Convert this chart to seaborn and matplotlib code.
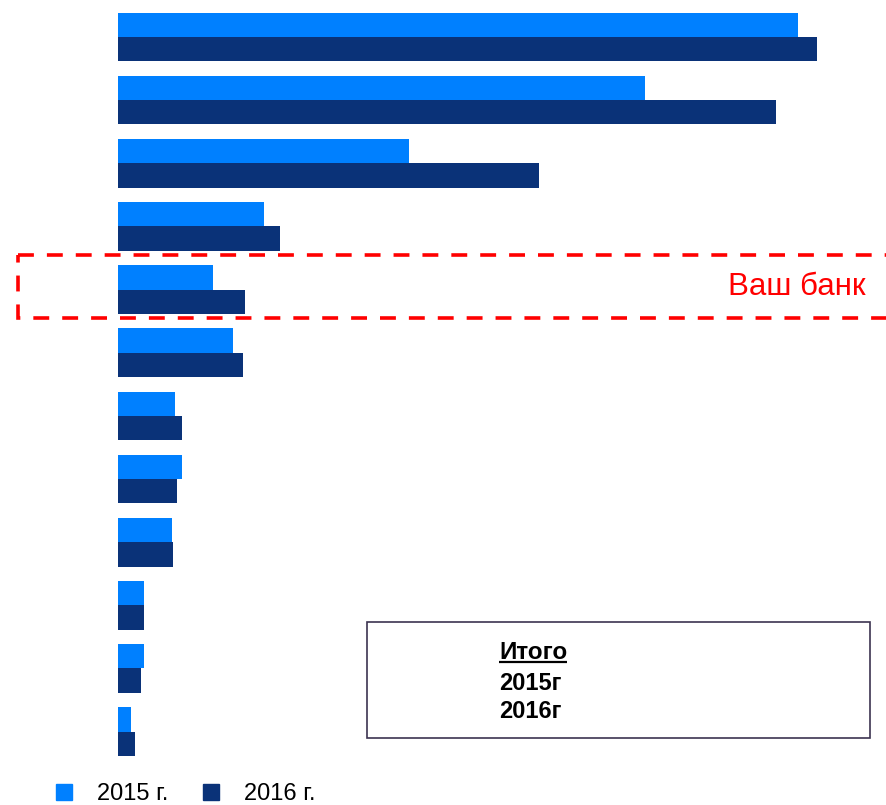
import matplotlib
matplotlib.use("Agg")
import matplotlib.pyplot as plt
from matplotlib.patches import Rectangle
from matplotlib.lines import Line2D
import seaborn as sns
import pandas as pd

# ---- data ----
categories = ["Банк 1", "Банк 2", "Банк 3", "Банк 4", "Ваш банк", "Банк 6",
              "Банк 7", "Банк 8", "Банк 9", "Банк 10", "Банк 11", "Банк 12"]
values_2015 = [680, 527, 291, 146, 95, 115, 57, 64, 54, 26, 26, 13]
values_2016 = [699, 658, 421, 162, 127, 125, 64, 59, 55, 26, 23, 17]
series_labels = ["2015 г.", "2016 г."]
highlight = "Ваш банк"
summary_title = "Итого"
summary_lines = ["2015г", "2016г"]

color_2015 = "#0080FF"
color_2016 = "#0A3278"

df = pd.DataFrame({
    "category": categories * 2,
    "year": [series_labels[0]] * len(categories) + [series_labels[1]] * len(categories),
    "value": values_2015 + values_2016,
})

sns.set_style("white")
plt.rcParams["font.family"] = ["Liberation Sans", "DejaVu Sans"]
plt.rcParams["text.color"] = "black"

fig = plt.figure(figsize=(8.86, 8.05), dpi=100)
ax = fig.add_axes([0, 0, 1, 1])

sns.barplot(data=df, y="category", x="value", hue="year", orient="h",
            palette=[color_2015, color_2016], saturation=1, width=0.77,
            errorbar=None, order=categories, hue_order=series_labels,
            legend=False, edgecolor="none", ax=ax)

PX = 63.15          # pixels per category step
Y0 = -37 / PX       # category value at figure top
def ypx(p):
    return Y0 + p / PX

ax.set_xlim(-118, 768)
ax.set_ylim(ypx(805), ypx(0))
ax.axis("off")

# highlight rectangle
ax.add_patch(Rectangle((-100, ypx(255)), 1000, ypx(318) - ypx(255),
                       fill=False, edgecolor="#FF0000", lw=2.6,
                       linestyle=(0, (4.4, 3.6)), clip_on=False))
ax.text(748, ypx(287), highlight, color="#FF0000", fontsize=22.5,
        ha="right", va="center")

# summary box
ax.add_patch(Rectangle((249, ypx(622.3)), 503, ypx(738.3) - ypx(622.3),
                       fill=False, edgecolor="#3C3350", lw=1.2, clip_on=False))
title = ax.text(381, ypx(659.3), summary_title, fontsize=17.5, fontweight="bold",
                ha="left", va="baseline")
for line, base in zip(summary_lines, [690, 718.3]):
    ax.text(381, ypx(base), line, fontsize=17, fontweight="bold",
            ha="left", va="baseline")

# underline matching the title's width
fig.canvas.draw()
bb = title.get_window_extent(renderer=fig.canvas.get_renderer())
x0, x1 = ax.transData.inverted().transform([[bb.x0, 0], [bb.x1, 0]])[:, 0]
ax.plot([x0, x1], [ypx(662.5), ypx(662.5)], color="black", lw=1.6,
        solid_capstyle="butt")

# legend
handles = [Line2D([], [], marker="s", linestyle="none", markersize=11,
                  markerfacecolor=c, markeredgecolor=c)
           for c in (color_2015, color_2016)]
fig.legend(handles, series_labels, loc="center left",
           bbox_to_anchor=(56 / 886, 1 - 794 / 805), bbox_transform=fig.transFigure,
           ncol=2, frameon=False, fontsize=17, handlelength=0.7,
           handletextpad=1.05, columnspacing=1.43, borderpad=0, borderaxespad=0)

fig.savefig("out.png", dpi=100)
